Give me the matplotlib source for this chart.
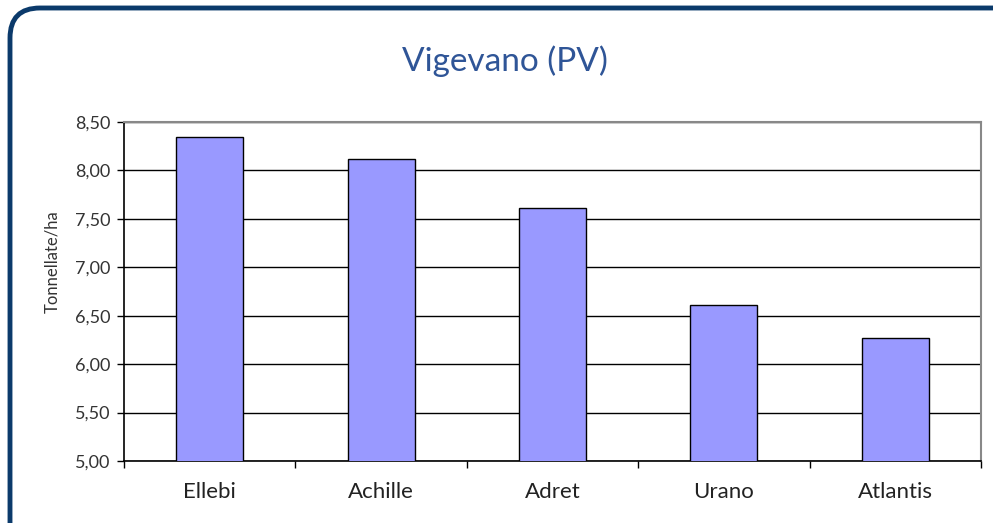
import matplotlib
matplotlib.use("Agg")
import matplotlib.pyplot as plt
from matplotlib.patches import FancyBboxPatch
from matplotlib.ticker import FuncFormatter, MultipleLocator

categories = ["Ellebi", "Achille", "Adret", "Urano", "Atlantis"]
values = [8.34, 8.12, 7.61, 6.61, 6.27]
title = "Vigevano (PV)"
ylabel = "Tonnellate/ha"

plt.rcParams['font.family'] = ['Lato', 'DejaVu Sans']

fig = plt.figure(figsize=(9.93, 5.23), dpi=100)
fig.patch.set_facecolor("white")

W, H = 993, 523
frame = FancyBboxPatch((0.10, -0.4), 10.2, 5.55,
                       boxstyle="round,pad=0,rounding_size=0.3",
                       transform=fig.dpi_scale_trans, facecolor="none",
                       edgecolor="#0B3A6B", linewidth=3.5, clip_on=False,
                       zorder=5)
fig.patches.append(frame)

ax = fig.add_axes([124 / W, 1 - 461 / H, (981 - 124) / W, (461 - 122) / H])
ax.set_facecolor("white")
x = range(len(categories))
ax.bar(x, values, width=0.39, bottom=0, color="#9999FF", edgecolor="black",
       linewidth=1.0, zorder=3)
ax.set_xlim(-0.5, len(categories) - 0.5)
ax.set_ylim(5.0, 8.5)
ax.yaxis.set_major_locator(MultipleLocator(0.5))
ax.yaxis.set_major_formatter(FuncFormatter(lambda v, p: f"{v:.2f}".replace(".", ",")))
ax.grid(axis="y", color="black", linewidth=1.0, zorder=0)
ax.set_axisbelow(True)
ax.set_xticks(list(x))
ax.set_xticklabels(categories, fontsize=16, color="#222222")
ax.set_xticks([i + 0.5 for i in range(-1, len(categories))], minor=True)
ax.tick_params(axis="x", which="major", length=0, pad=15)
ax.tick_params(axis="x", which="minor", length=5, width=1, color="black", direction="out")
ax.tick_params(axis="y", length=5, width=1, color="black", labelsize=13,
               labelcolor="#333333", pad=5)
for s in ["left", "bottom"]:
    ax.spines[s].set_color("black")
    ax.spines[s].set_linewidth(1.2)
for s in ["top", "right"]:
    ax.spines[s].set_color("#888888")
    ax.spines[s].set_linewidth(1.5)
fig.text(52 / W, 1 - 262 / H, ylabel, rotation=90, ha="center", va="center",
         fontsize=12, color="#333333")
fig.text(505 / W, 1 - 61 / H, title, ha="center", va="center", fontsize=24,
         color="#2F5597")

fig.savefig("out.png", dpi=100, facecolor="white")
